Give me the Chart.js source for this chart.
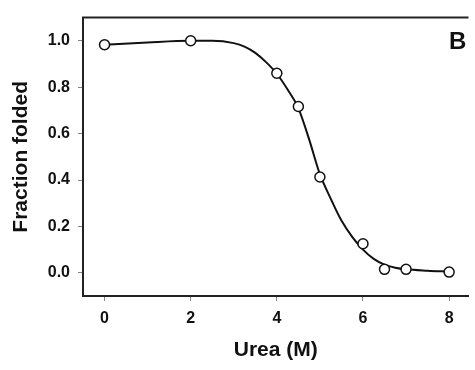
<!DOCTYPE html>
<html>
<head>
<meta charset="utf-8">
<script src="https://cdn.jsdelivr.net/npm/chart.js@4/dist/chart.umd.min.js"></script>
<style>
body { margin: 0; background: #fff; }
#wrap { position: relative; width: 475px; height: 370px; }
#panel { position: absolute; left: 449px; top: 29px; font: bold 24px "Liberation Sans", Arial, sans-serif; line-height: 1; color: #111; }
</style>
</head>
<body>
<div id="wrap">
<canvas id="chart" width="475" height="370"></canvas>
<div id="panel">B</div>
</div>
<script>
// Measured points
const urea = [0, 2, 4, 4.5, 5, 6, 6.5, 7, 8];
const fractionFolded = [0.983, 1.0, 0.86, 0.717, 0.413, 0.125, 0.015, 0.015, 0.003];

// Fitted curve
const fitUrea = [0, 1, 2, 2.5, 3, 3.25, 3.5, 3.75, 4, 4.25, 4.5, 4.75, 5, 5.25, 5.5, 5.75, 6, 6.25, 6.5, 6.75, 7, 7.5, 8];
const fitFraction = [0.983, 0.993, 1.0, 1.0, 0.99, 0.975, 0.948, 0.908, 0.858, 0.79, 0.71, 0.575, 0.425, 0.32, 0.225, 0.155, 0.1, 0.06, 0.035, 0.022, 0.015, 0.009, 0.005];

const xTicks = [0, 2, 4, 6, 8];
const yTicks = [0.0, 0.2, 0.4, 0.6, 0.8, 1.0];

const FONT = '"Liberation Sans", Arial, sans-serif';
const AXIS = '#222';

// top edge of the frame
const frameTop = {
    id: 'frameTop',
    afterDraw(chart) {
        const { ctx, chartArea } = chart;
        ctx.save();
        ctx.strokeStyle = AXIS;
        ctx.lineWidth = 2;
        ctx.beginPath();
        ctx.moveTo(chartArea.left - 1, chartArea.top);
        ctx.lineTo(chartArea.right, chartArea.top);
        ctx.stroke();
        ctx.restore();
    }
};

new Chart(document.getElementById('chart'), {
    type: 'scatter',
    data: {
        datasets: [{
            label: 'data',
            data: urea.map((x, i) => ({ x: x, y: fractionFolded[i] })),
            showLine: false,
            pointRadius: 5,
            pointBorderWidth: 1.5,
            pointBackgroundColor: '#fff',
            pointBorderColor: '#111',
            order: 0
        }, {
            label: 'fit',
            data: fitUrea.map((x, i) => ({ x: x, y: fitFraction[i] })),
            showLine: true,
            pointRadius: 0,
            borderColor: '#111',
            borderWidth: 2,
            cubicInterpolationMode: 'monotone',
            order: 1
        }]
    },
    options: {
        responsive: false,
        animation: false,
        layout: { padding: { top: 12, left: 0, right: 0, bottom: 0 } },
        plugins: {
            legend: { display: false },
            tooltip: { enabled: false }
        },
        scales: {
            x: {
                type: 'linear',
                min: -0.5,
                max: 8.45,
                afterBuildTicks: (scale) => { scale.ticks = xTicks.map(v => ({ value: v })); },
                afterFit: (scale) => { scale.height = 74; },
                ticks: { color: '#111', font: { family: FONT, size: 16, weight: 'bold' }, padding: 8 },
                grid: { drawOnChartArea: false, drawTicks: true, tickLength: 5, tickColor: '#888', tickWidth: 1 },
                border: { color: AXIS, width: 2 },
                title: { display: true, text: 'Urea (M)', color: '#111', font: { family: FONT, size: 21, weight: 'bold' }, padding: { top: 0, bottom: 7 } }
            },
            y: {
                min: -0.1,
                max: 1.1,
                afterBuildTicks: (scale) => { scale.ticks = yTicks.map(v => ({ value: v })); },
                afterFit: (scale) => { scale.width = 83; },
                ticks: { color: '#111', font: { family: FONT, size: 16, weight: 'bold' }, padding: 8, callback: v => v.toFixed(1) },
                grid: { drawOnChartArea: false, drawTicks: true, tickLength: 5, tickColor: '#888', tickWidth: 1 },
                border: { color: AXIS, width: 2 },
                title: { display: true, text: 'Fraction folded', color: '#111', font: { family: FONT, size: 21, weight: 'bold' }, padding: { top: 9, bottom: 0 } }
            }
        }
    },
    plugins: [frameTop]
});
</script>
</body>
</html>
